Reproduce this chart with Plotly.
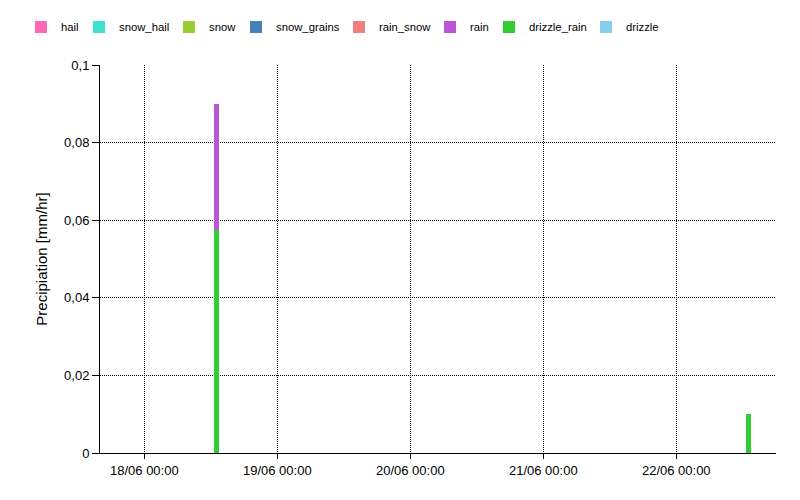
import plotly.graph_objects as go

# ---- data ----
times = ["2024-06-18 13:00", "2024-06-22 13:00"]
categories = ["hail", "snow_hail", "snow", "snow_grains", "rain_snow", "rain", "drizzle_rain", "drizzle"]
colors = ["#FF69B4", "#40E0D0", "#9ACD32", "#4682B4", "#F08080", "#BA55D3", "#32CD32", "#87CEEB"]
hail = [0, 0]
snow_hail = [0, 0]
snow = [0, 0]
snow_grains = [0, 0]
rain_snow = [0, 0]
rain = [0.0325, 0]
drizzle_rain = [0.0575, 0.01]
drizzle = [0, 0]
values = {
    "hail": hail, "snow_hail": snow_hail, "snow": snow, "snow_grains": snow_grains,
    "rain_snow": rain_snow, "rain": rain, "drizzle_rain": drizzle_rain, "drizzle": drizzle,
}
x_range = ["2024-06-17 16:00", "2024-06-22 18:00"]
y_ticks = [0, 0.02, 0.04, 0.06, 0.08, 0.1]

# ---- layout (pixels) ----
W, H = 792, 492
ML, MR, MT, MB = 92, 24, 57, 47
PW, PH = W - ML - MR, H - MT - MB
# text start of each legend entry, in page px (page has an 8 px body offset)
legend_text_px = [60, 118, 208, 275, 378, 469, 528, 625]
PAGE_OFF = 8

FONT = "Liberation Sans"
fig = go.Figure()
legend_layouts = {}
# stack bottom-up: drizzle first ... hail last
for i in range(len(categories) - 1, -1, -1):
    name = categories[i]
    lg = "legend" if i == 0 else f"legend{i + 1}"
    fig.add_trace(go.Bar(
        x=times, y=values[name], name=name,
        marker=dict(color=colors[i], line=dict(width=0)),
        width=3000000, legend=lg, showlegend=True,
    ))
    lx = (legend_text_px[i] - 39 - PAGE_OFF - ML) / PW
    legend_layouts[lg] = dict(
        orientation="h", xref="paper", yref="paper",
        x=lx, y=1 + 52.5 / PH, xanchor="left", yanchor="top",
        font=dict(size=11.3), itemwidth=30, bgcolor="rgba(0,0,0,0)",
    )

fig.update_layout(
    width=W, height=H,
    showlegend=True,
    barmode="stack",
    separators=",.",
    paper_bgcolor="white", plot_bgcolor="white",
    font=dict(family=FONT, size=13, color="black"),
    margin=dict(l=ML, r=MR, t=MT, b=MB, autoexpand=False),
    bargap=0,
    **legend_layouts,
)
fig.update_xaxes(
    type="date", range=x_range, dtick=86400000, tick0="2024-06-18",
    tickformat="%d/%m %H:%M",
    showgrid=True, gridcolor="black", griddash="1px,1px", gridwidth=1,
    showline=True, linecolor="black", linewidth=1,
    ticks="outside", ticklen=5, tickcolor="black",
    zeroline=False, automargin=False,
)
fig.update_yaxes(
    range=[0, 0.1], tickvals=y_ticks,
    showgrid=True, gridcolor="black", griddash="1px,1px", gridwidth=1,
    showline=True, linecolor="black", linewidth=1,
    ticks="outside", ticklen=7, tickcolor="black",
    zeroline=False, automargin=False,
    title=dict(text="Precipiation [mm/hr]", font=dict(size=15), standoff=12),
)
fig.write_html("out.html")
